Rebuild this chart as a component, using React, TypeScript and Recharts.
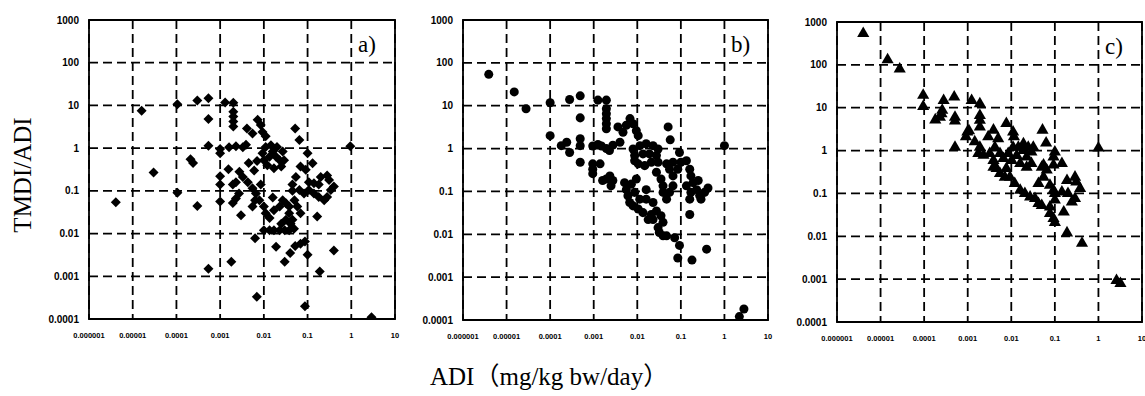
import { ScatterChart, Scatter, XAxis, YAxis, ZAxis, CartesianGrid, ReferenceArea } from 'recharts';

const xTicks = [0.000001, 0.00001, 0.0001, 0.001, 0.01, 0.1, 1, 10];
const xTickLabels = ['0.000001', '0.00001', '0.0001', '0.001', '0.01', '0.1', '1', '10'];
const yTicks = [0.0001, 0.001, 0.01, 0.1, 1, 10, 100, 1000];
const yTickLabels = ['0.0001', '0.001', '0.01', '0.1', '1', '10', '100', '1000'];

// a) diamonds  [ADI, TMDI/ADI]
const pointsA: [number, number][] = [
  [4.1e-6, 0.054], [1.6e-5, 7.5], [3.0e-5, 0.27], [1.05e-4, 10.7], [1.05e-4, 0.09],
  [3.0e-4, 13], [5.4e-4, 14.8], [5.4e-4, 4.8], [5.4e-4, 1.14], [2.1e-4, 0.55], [2.4e-4, 0.45], [3.0e-4, 0.044], [5.4e-4, 0.0015],
  [1.3e-3, 11.7], [2.0e-3, 11.5], [2.0e-3, 7.1], [2.0e-3, 5.5], [2.0e-3, 4.2], [2.0e-3, 3.2],
  [1e-3, 0.95], [1e-3, 0.76], [1e-3, 0.22], [1e-3, 0.14], [1e-3, 0.056], [1.55e-3, 0.32], [1.8e-3, 0.0022],
  [1.95e-3, 0.052], [2.3e-3, 0.066], [2.7e-3, 0.087], [3.0e-3, 0.027],
  [1.6e-3, 1.05], [2.3e-3, 1.1], [3.3e-3, 1.05], [3.9e-3, 1.2], [4.1e-3, 2.9], [5.5e-3, 2.2],
  [4.3e-3, 0.16], [3.3e-3, 0.21], [2.75e-3, 0.28], [1.95e-3, 0.14], [2.3e-3, 0.16],
  [5.5e-3, 0.043], [6.3e-3, 0.06], [6.3e-3, 0.0078], [6.9e-3, 3.3e-4],
  [7.2e-3, 4.6], [8.5e-3, 3.5], [9.3e-3, 2.4], [0.011, 1.9],
  [9.3e-3, 0.76], [0.011, 1.07], [0.0145, 1.17], [0.02, 1.07], [0.027, 0.83], [0.029, 0.52], [0.025, 0.37], [0.017, 0.34],
  [0.012, 0.4], [0.01, 0.52], [0.0135, 0.63], [0.019, 0.63], [0.016, 0.83], [0.023, 0.52],
  [0.0055, 0.115], [0.0066, 0.087], [0.0079, 0.06], [0.01, 0.043], [0.011, 0.03], [0.0135, 0.023],
  [0.01, 0.012], [0.0135, 0.012], [0.017, 0.012], [0.023, 0.012], [0.03, 0.012], [0.038, 0.012], [0.049, 0.013],
  [0.019, 0.0049], [0.03, 0.0022], [0.04, 0.0035], [0.052, 0.0051], [0.069, 0.0058], [0.087, 0.0065], [0.1, 0.0032],
  [0.087, 2e-4], [0.19, 0.0013], [0.4, 0.004], [0.166, 0.025], [0.95, 1.1], [2.9, 1.1e-4],
  [0.052, 2.9], [0.065, 1.55],
  [0.1, 0.76], [0.13, 0.44], [0.091, 0.31], [0.069, 0.37], [0.054, 0.21], [0.045, 0.14], [0.065, 0.105], [0.083, 0.087],
  [0.107, 0.105], [0.14, 0.087], [0.18, 0.072], [0.24, 0.06], [0.28, 0.072], [0.34, 0.105], [0.4, 0.126], [0.31, 0.18],
  [0.28, 0.23], [0.2, 0.21], [0.18, 0.14], [0.14, 0.15], [0.107, 0.16],
  [0.017, 0.035], [0.023, 0.043], [0.027, 0.06], [0.032, 0.051], [0.038, 0.03], [0.045, 0.021], [0.032, 0.021],
  [0.025, 0.017], [0.038, 0.043], [0.05, 0.06], [0.058, 0.043], [0.069, 0.03], [0.041, 0.017],
  [0.0045, 0.45], [0.007, 0.5], [0.0085, 0.14], [0.006, 0.3], [0.016, 0.07], [0.045, 0.1],
];

// b) circles
const pointsB: [number, number][] = [
  [3.9e-6, 54], [1.5e-5, 21], [2.8e-5, 8.5], [1e-4, 11.7], [1e-4, 2.0],
  [1.8e-4, 1.17], [2.4e-4, 1.4], [2.8e-4, 0.81], [2.8e-4, 14], [4.9e-4, 17], [4.9e-4, 5.2], [4.9e-4, 1.7], [4.9e-4, 1.17], [4.9e-4, 0.48],
  [9.5e-4, 1.15], [1.25e-3, 1.25], [1.5e-3, 1.15], [1.95e-3, 1.0],
  [1.25e-3, 13.5], [1.95e-3, 13.5], [1.95e-3, 8.5], [1.95e-3, 6.5], [1.95e-3, 5], [1.95e-3, 3.8], [1.95e-3, 2.9],
  [9.5e-4, 0.44], [9.5e-4, 0.33], [9.5e-4, 0.26], [1.4e-3, 0.44],
  [1.95e-3, 0.195], [2.35e-3, 0.23], [2.75e-3, 0.18], [2.5e-3, 0.135], [1.6e-3, 0.18],
  [3.6e-3, 3.2], [4.7e-3, 2.4], [5.6e-3, 3.5], [4.0e-3, 1.4], [2.75e-3, 1.2], [2.3e-3, 0.9],
  [6.8e-3, 5], [8e-3, 3.8], [9.5e-3, 2.6], [0.0105, 2.0],
  [8e-3, 0.98], [0.0115, 1.17], [0.016, 1.3], [0.023, 1.17], [0.03, 0.98], [0.0275, 0.69], [0.021, 0.48], [0.0148, 0.4],
  [0.0105, 0.44], [0.0087, 0.52], [0.0087, 0.69], [0.0135, 0.75], [0.019, 0.75], [0.03, 0.48], [0.0275, 0.28],
  [5.1e-3, 0.16], [5.6e-3, 0.11], [6.1e-3, 0.079], [6.7e-3, 0.055], [8e-3, 0.046], [0.0105, 0.039], [0.0135, 0.032],
  [0.0114, 0.066], [0.0087, 0.095], [7.3e-3, 0.148], [9.5e-3, 0.195], [0.016, 0.066], [0.023, 0.055], [0.016, 0.11],
  [0.0178, 0.022], [0.021, 0.029], [0.0275, 0.035], [0.035, 0.027], [0.039, 0.019], [0.03, 0.0143], [0.039, 0.0092],
  [0.047, 0.0092], [0.032, 0.011], [0.023, 0.022],
  [0.035, 0.195], [0.039, 0.135], [0.039, 0.095], [0.047, 0.066], [0.055, 0.095], [0.066, 0.135], [0.066, 0.23],
  [0.055, 0.33], [0.047, 0.44], [0.066, 0.48],
  [0.051, 3.2], [0.057, 1.6], [0.093, 0.81], [0.1, 0.48], [0.085, 0.33],
  [0.134, 0.52], [0.17, 0.23], [0.19, 0.16], [0.23, 0.11], [0.27, 0.08], [0.29, 0.066], [0.35, 0.095], [0.42, 0.12],
  [0.25, 0.18], [0.16, 0.33], [0.134, 0.135], [0.17, 0.095], [0.16, 0.066],
  [0.16, 0.029], [0.072, 0.0083], [0.093, 0.0055], [0.085, 0.0028], [0.18, 0.0025], [0.39, 0.0045], [1.0, 1.17],
  [2.2, 1.2e-4], [2.8, 1.8e-4],
];

// c) triangles
const pointsC: [number, number][] = [
  [4e-6, 540], [1.45e-5, 132], [2.75e-5, 80], [9.5e-5, 19.5], [9.5e-5, 10.7],
  [1.8e-4, 5.2], [2.3e-4, 6], [2.6e-4, 8.7], [2.8e-4, 14.8], [2.5e-4, 7.2],
  [4.9e-4, 17.8], [5.1e-4, 6], [5.1e-4, 4.9], [5.1e-4, 1.2],
  [1.23e-3, 14.8], [1.9e-3, 12.3], [1.9e-3, 6.6], [1.9e-3, 5.1], [1.9e-3, 3.55],
  [9.1e-4, 2.1], [9.8e-4, 2.7], [1.07e-3, 2.9],
  [1.45e-3, 1.6], [1.9e-3, 1.2], [1.75e-3, 0.85], [2.3e-3, 0.78],
  [2.95e-3, 2.1], [3.9e-3, 3.0], [5e-3, 1.9], [4.2e-3, 1.2], [3.2e-3, 0.85], [3.9e-3, 0.59], [4.6e-3, 0.38], [5.5e-3, 0.29],
  [7.1e-3, 0.24], [7.7e-3, 0.38],
  [7.7e-3, 4.3], [0.011, 2.7], [0.0115, 2.1], [8.5e-3, 0.85], [0.0102, 0.59], [0.0133, 0.77], [0.019, 1.0], [0.0225, 0.71],
  [0.029, 0.93], [0.029, 0.5], [0.0225, 0.41], [0.016, 0.5],
  [9.3e-3, 0.24], [0.012, 0.17], [0.016, 0.118], [0.0205, 0.1], [0.027, 0.083], [0.035, 0.076], [0.042, 0.058], [0.05, 0.052],
  [0.042, 0.17], [0.055, 0.24], [0.05, 0.41], [0.055, 0.46], [0.065, 0.35], [0.077, 0.155], [0.093, 0.118], [0.1, 0.1],
  [0.1, 0.07], [0.077, 0.048],
  [0.052, 3.0], [0.063, 1.5],
  [0.1, 0.93], [0.093, 0.71], [0.093, 0.46], [0.145, 0.5],
  [0.077, 0.034], [0.093, 0.026], [0.1, 0.021], [0.16, 0.037],
  [0.19, 0.2], [0.29, 0.24], [0.31, 0.185], [0.38, 0.13], [0.29, 0.076], [0.245, 0.063], [0.2, 0.1], [0.145, 0.108],
  [0.19, 0.012], [0.42, 0.0069], [1.0, 1.15], [2.6, 9.3e-4], [3.2, 7.9e-4],
  [5.5e-3, 0.85], [6.6e-3, 0.65], [3.9e-3, 0.41], [0.011, 1.2], [0.0145, 1.2], [0.019, 1.45], [0.0245, 1.2], [0.032, 1.2],
];

const toRows = (pts: [number, number][]) => pts.map(([x, y]) => ({ x, y }));

// square diamond, like the printed marker (d3's diamond is too tall)
const Diamond = (props: any) => {
  const { cx, cy } = props;
  if (cx == null || cy == null) return null;
  const r = 5;
  return <polygon points={`${cx},${cy - r} ${cx + r},${cy} ${cx},${cy + r} ${cx - r},${cy}`} fill="#000" />;
};

const AXIS_W = 60;

interface PanelProps {
  left: number;
  top: number;
  plotW: number;
  plotH: number;
  right: number;
  points: [number, number][];
  shape: any;
  size: number;
  tag: string;
}

function Panel({ left, top, plotW, plotH, right, points, shape, size, tag }: PanelProps) {
  const width = AXIS_W + plotW + right;
  const height = top + plotH + 30;
  return (
    <div style={{ position: 'absolute', left: left - AXIS_W, top: 0, width, height }}>
      <ScatterChart width={width} height={height} margin={{ top, right, bottom: 0, left: 0 }}>
        <CartesianGrid stroke="#000" strokeWidth={1.8} strokeDasharray="9 5" />
        <XAxis
          dataKey="x"
          type="number"
          scale="log"
          domain={[xTicks[0], xTicks[xTicks.length - 1]]}
          ticks={xTicks}
          interval={0}
          allowDataOverflow
          axisLine={false}
          tickLine={false}
          tickSize={6}
          tickMargin={8}
          height={30}
          tick={{ fill: '#000', fontSize: 7.5, fontWeight: 700, fontFamily: 'Liberation Sans' }}
          tickFormatter={(v: number) => xTickLabels[xTicks.indexOf(v)] ?? String(v)}
        />
        <YAxis
          dataKey="y"
          type="number"
          scale="log"
          domain={[yTicks[0], yTicks[yTicks.length - 1]]}
          ticks={yTicks}
          interval={0}
          allowDataOverflow
          axisLine={false}
          tickLine={false}
          tickSize={6}
          tickMargin={4}
          width={AXIS_W}
          tick={{ fill: '#000', fontSize: 10, fontWeight: 700, fontFamily: 'Liberation Sans' }}
          tickFormatter={(v: number) => yTickLabels[yTicks.indexOf(v)] ?? String(v)}
        />
        <ZAxis range={[size, size]} />
        <ReferenceArea
          x1={xTicks[0]}
          x2={xTicks[xTicks.length - 1]}
          y1={yTicks[0]}
          y2={yTicks[yTicks.length - 1]}
          fill="none"
          fillOpacity={0}
          stroke="#000"
          strokeWidth={1.8}
          ifOverflow="visible"
        />
        <Scatter data={toRows(points)} shape={shape} fill="#000" isAnimationActive={false} />
      </ScatterChart>
      <div
        style={{
          position: 'absolute',
          left: AXIS_W + plotW - 37,
          top: top + 13,
          fontFamily: 'Liberation Serif',
          fontSize: 23,
          lineHeight: 1,
          color: '#000',
        }}
      >
        {tag}
      </div>
    </div>
  );
}

export default function App() {
  return (
    <div style={{ position: 'absolute', left: 0, top: 0, width: 1145, height: 396, background: '#fff', overflow: 'hidden' }}>
      <Panel left={89} top={20} plotW={306} plotH={299} right={5} points={pointsA} shape={Diamond} size={48} tag="a)" />
      <Panel left={463} top={20} plotW={305} plotH={300} right={5} points={pointsB} shape="circle" size={44} tag="b)" />
      <Panel left={837} top={22} plotW={305} plotH={300} right={3} points={pointsC} shape="triangle" size={52} tag="c)" />
      <div
        style={{
          position: 'absolute',
          left: 23,
          top: 175,
          transform: 'translate(-50%, -50%) rotate(-90deg)',
          fontFamily: 'Liberation Serif',
          fontSize: 25,
          whiteSpace: 'nowrap',
          color: '#000',
        }}
      >
        TMDI/ADI
      </div>
      <div
        style={{
          position: 'absolute',
          left: 430,
          top: 356,
          fontFamily: 'Liberation Serif, Noto Sans CJK JP',
          fontSize: 25,
          whiteSpace: 'nowrap',
          color: '#000',
        }}
      >
        ADI（mg/kg bw/day）
      </div>
    </div>
  );
}
